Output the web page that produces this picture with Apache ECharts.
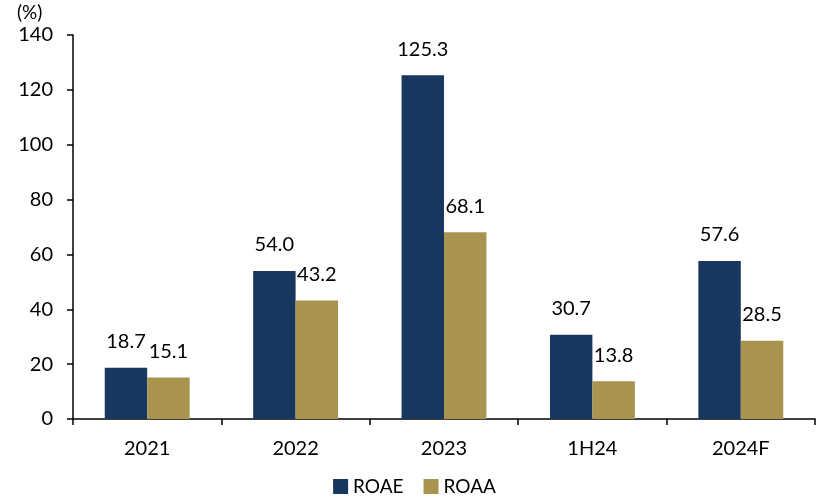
<!DOCTYPE html>
<html><head><meta charset="utf-8">
<script src="https://cdn.jsdelivr.net/npm/echarts@6/dist/echarts.min.js"></script>
<style>html,body{margin:0;padding:0;background:#fff}#c{width:829px;height:502px}</style>
</head><body><div id="c"></div>
<script>
const categories = ['2021','2022','2023','1H24','2024F'];
const roae = [18.7, 54.0, 125.3, 30.7, 57.6];
const roaa = [15.1, 43.2, 68.1, 13.8, 28.5];
const yTicks = {min: 0, max: 140, interval: 20};

const font = 'Lato';
const fs = 20;
const chart = echarts.init(document.getElementById('c'));
chart.setOption({
  animation: false,
  textStyle: {fontFamily: font},
  grid: {left: 73, right: 14, top: 35, bottom: 83},
  legend: {
    bottom: 1, left: 'center', itemWidth: 15, itemHeight: 15, itemGap: 20,
    icon: 'rect',
    textStyle: {fontFamily: font, fontSize: 19, color: '#000'},
    data: ['ROAE','ROAA']
  },
  graphic: [{type: 'text', left: 17, top: 3, style: {text: '(%)', font: '19px Lato', fill: '#000'}}],
  xAxis: {
    type: 'category', data: categories,
    axisLine: {lineStyle: {color: '#000', width: 1.5}},
    axisTick: {show: true, length: 6, lineStyle: {color: '#000', width: 1.5}},
    axisLabel: {fontFamily: font, fontSize: fs, color: '#000', margin: 20}
  },
  yAxis: {
    type: 'value', min: yTicks.min, max: yTicks.max, interval: yTicks.interval,
    axisLine: {show: true, lineStyle: {color: '#000', width: 1.5}},
    axisTick: {show: true, length: 6, lineStyle: {color: '#000', width: 1.5}},
    splitLine: {show: false},
    axisLabel: {fontFamily: font, fontSize: fs, color: '#000', margin: 20}
  },
  series: [
    {name: 'ROAE', type: 'bar', data: roae, barWidth: '28.6%', barGap: '0%',
     itemStyle: {color: '#17375E'},
     label: {show: true, position: 'top', distance: 16, fontFamily: font, fontSize: fs, color: '#000',
             formatter: p => p.value.toFixed(1)}},
    {name: 'ROAA', type: 'bar', data: roaa, barWidth: '28.6%',
     itemStyle: {color: '#A9944F'},
     label: {show: true, position: 'top', distance: 16, fontFamily: font, fontSize: fs, color: '#000',
             formatter: p => p.value.toFixed(1)}}
  ]
});
</script></body></html>
